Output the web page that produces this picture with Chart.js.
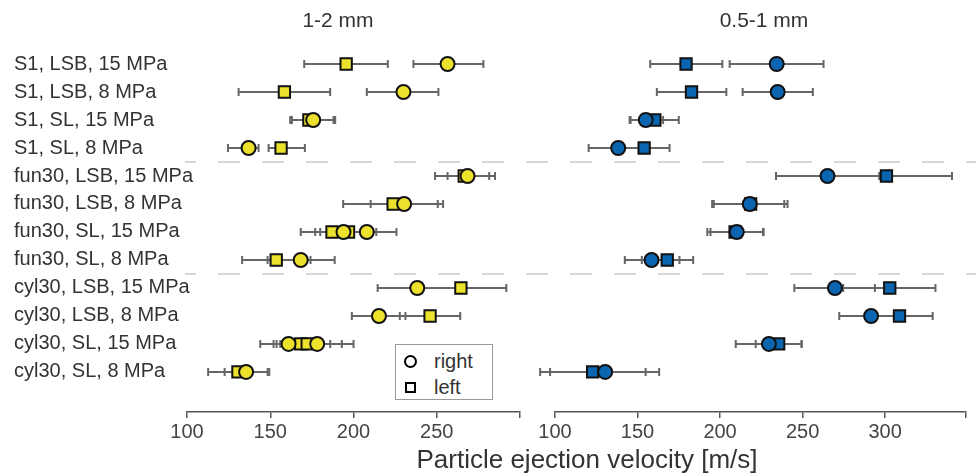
<!DOCTYPE html>
<html>
<head>
<meta charset="utf-8">
<script src="https://cdn.jsdelivr.net/npm/chart.js@4/dist/chart.umd.min.js"></script>
<style>
    body { margin: 0; background: #fff; font-family: "Liberation Sans", Arial, sans-serif; color: #333; }
    #wrap { position: relative; width: 976px; height: 473px; overflow: hidden; }
    #leftBox { position: absolute; left: 0; top: 0; width: 530px; height: 473px; }
    #rightBox { position: absolute; left: 530px; top: 0; width: 446px; height: 473px; }
    .panel-title { position: absolute; top: 8px; font-size: 21px; transform: translateX(-50%); white-space: nowrap; }
    #xTitle { position: absolute; left: 587px; top: 444px; font-size: 26px; transform: translateX(-50%); white-space: nowrap; }
    #legend { position: absolute; left: 395px; top: 344px; width: 96px; height: 54px; border: 1px solid #999; background: #fff; font-size: 20px; }
    #legend .row { position: absolute; left: 38px; line-height: 20px; }
    #legend .mk { position: absolute; border: 2.5px solid #000; background: #fff; box-sizing: border-box; }
</style>
</head>
<body>
<div id="wrap">
    <div id="leftBox"><canvas id="coarseChart"></canvas></div>
    <div id="rightBox"><canvas id="fineChart"></canvas></div>
    <div class="panel-title" style="left:338px">1-2 mm</div>
    <div class="panel-title" style="left:764px">0.5-1 mm</div>
    <div id="legend">
        <div class="mk" style="left:8px; top:10px; width:13px; height:13px; border-radius:50%"></div>
        <div class="row" style="top:6px">right</div>
        <div class="mk" style="left:9px; top:37px; width:11px; height:11px"></div>
        <div class="row" style="top:32px">left</div>
    </div>
    <div id="xTitle">Particle ejection velocity [m/s]</div>
</div>
<script>
const categories = [
    'S1, LSB, 15 MPa', 'S1, LSB, 8 MPa', 'S1, SL, 15 MPa', 'S1, SL, 8 MPa',
    'fun30, LSB, 15 MPa', 'fun30, LSB, 8 MPa', 'fun30, SL, 15 MPa', 'fun30, SL, 8 MPa',
    'cyl30, LSB, 15 MPa', 'cyl30, LSB, 8 MPa', 'cyl30, SL, 15 MPa', 'cyl30, SL, 8 MPa'
];
const groupBreaks = [3.5, 7.5];

// [row, mean, low, high]
const coarseRight = [
    [0, 256.5, 236, 278], [1, 230, 208, 251], [2, 175.8, 162, 189], [3, 137, 124.6, 143],
    [4, 268.5, 249, 285], [5, 230.4, 210.3, 250.6], [6, 194, 177, 211], [6, 208, 190, 225.8],
    [7, 168.3, 148.4, 188.7], [8, 238.3, 214.5, 262], [9, 215.3, 199, 231.2],
    [10, 161, 144, 178], [10, 178.2, 156, 200], [11, 135.5, 122.6, 148.4]
];
const coarseLeft = [
    [0, 195.6, 170.4, 220.6], [1, 158.5, 131, 186], [2, 173.2, 163, 188], [3, 156.5, 149, 170.8],
    [4, 266.5, 256.5, 281.5], [5, 223.8, 193.8, 253.8], [6, 187.1, 168.3, 206], [6, 197, 180, 213.7],
    [7, 153.6, 133.1, 174.2], [8, 264.5, 240, 291.8], [9, 246, 227.8, 264.1],
    [10, 168.3, 152, 186], [10, 172.2, 153.8, 193], [11, 130.6, 112.7, 149.4]
];
const fineRight = [
    [0, 234.3, 205.8, 262.7], [1, 234.9, 213.7, 256.2], [2, 155, 145.2, 165.5], [3, 138.3, 120.4, 156],
    [4, 265.1, 233.9, 296.4], [5, 218, 195.2, 240.9], [6, 210.1, 192.3, 226.4], [7, 158.5, 142.3, 175.4],
    [8, 269.6, 245, 293.8], [9, 291.5, 272.2, 310.8], [10, 229.6, 209.5, 249.4], [11, 130.4, 97, 163.1]
];
const fineLeft = [
    [0, 179.4, 157.7, 201.4], [1, 182.7, 161.7, 203.8], [2, 160.5, 145.8, 175], [3, 154, 138.6, 169.4],
    [4, 300.8, 265, 340.5], [5, 218.5, 196.2, 238.9], [6, 209.1, 194.2, 226], [7, 168, 152.6, 183.7],
    [8, 302.8, 274.6, 330.5], [9, 308.7, 289, 328.8], [10, 235.5, 221.6, 249.4], [11, 122.8, 91, 154.9]
];

const coarseTicks = [100, 150, 200, 250, 300];
const fineTicks = [100, 150, 200, 250, 300, 349];

const yellow = '#ece22c';
const blue = '#0b66b2';
const fontFamily = '"Liberation Sans", Arial, sans-serif';
const font = { family: fontFamily, size: 20 };

const errorBars = {
    id: 'errorBars',
    beforeDatasetsDraw(chart, args, opts) {
        const { ctx, chartArea } = chart;
        const xs = chart.scales.x, ys = chart.scales.y;

        // dashed group separators, phase kept continuous across the two canvases
        ctx.save();
        ctx.strokeStyle = '#c8c8c8';
        ctx.lineWidth = 1.5;
        ctx.setLineDash([22, 22]);
        const x0 = opts.sepFrom(chartArea), x1 = chart.width;
        ctx.lineDashOffset = (((opts.canvasLeft + x0 - 174) % 44) + 44) % 44;
        groupBreaks.forEach(b => {
            const y = ys.getPixelForValue(b);
            ctx.beginPath();
            ctx.moveTo(x0, y);
            ctx.lineTo(x1, y);
            ctx.stroke();
        });
        ctx.restore();

        ctx.save();
        ctx.strokeStyle = '#666';
        ctx.lineWidth = 2;
        opts.series.forEach(series => {
            series.forEach(([row, , lo, hi]) => {
                const y = ys.getPixelForValue(row);
                const a = xs.getPixelForValue(lo), b = xs.getPixelForValue(hi);
                ctx.beginPath();
                ctx.moveTo(a, y); ctx.lineTo(b, y);
                ctx.moveTo(a, y - 4); ctx.lineTo(a, y + 4);
                ctx.moveTo(b, y - 4); ctx.lineTo(b, y + 4);
                ctx.stroke();
            });
        });
        ctx.restore();
    },
    afterDraw(chart, args, opts) {
        if (!opts.labels) return;
        // category names, left aligned; they may run slightly into the plot area
        const { ctx } = chart;
        const ys = chart.scales.y;
        ctx.save();
        ctx.font = `20px ${fontFamily}`;
        ctx.fillStyle = '#333';
        ctx.textAlign = 'left';
        ctx.textBaseline = 'middle';
        categories.forEach((c, i) => ctx.fillText(c, 14, ys.getPixelForValue(i)));
        ctx.restore();
    }
};

function makeDatasets(right, left, color) {
    return [
        {
            label: 'right',
            data: right.map(p => ({ x: p[1], y: p[0] })),
            pointStyle: 'circle',
            pointRadius: 7,
            borderWidth: 2,
            borderColor: '#111',
            backgroundColor: color
        },
        {
            label: 'left',
            data: left.map(p => ({ x: p[1], y: p[0] })),
            pointStyle: 'rect',
            pointRadius: 8,
            borderWidth: 2,
            borderColor: '#111',
            backgroundColor: color
        }
    ];
}

function xScale(min, max, tickValues) {
    return {
        type: 'linear',
        min: min,
        max: max,
        afterBuildTicks: s => { s.ticks = tickValues.map(v => ({ value: v })); },
        afterFit: s => { s.height = 40; },
        ticks: {
            autoSkip: false,
            maxRotation: 0,
            padding: 2,
            font: font,
            color: '#444',
            callback: (v, i) => (i === tickValues.length - 1 ? '' : String(v))
        },
        grid: { display: true, drawOnChartArea: false, drawTicks: true, tickLength: 6, color: '#555', lineWidth: 1.5 },
        border: { display: true, color: '#555', width: 1.5 }
    };
}

function yScale(width) {
    return {
        type: 'linear',
        min: -1,
        max: 12.43,
        reverse: true,
        afterFit: s => { s.width = width; },
        ticks: { display: false },
        grid: { display: false },
        border: { display: false }
    };
}

Chart.defaults.animation = false;

new Chart(document.getElementById('coarseChart'), {
    type: 'scatter',
    data: { datasets: makeDatasets(coarseRight, coarseLeft, yellow) },
    options: {
        responsive: true,
        maintainAspectRatio: false,
        layout: { padding: { left: 14, right: 7, top: 36, bottom: 21 } },
        plugins: {
            legend: { display: false },
            tooltip: { enabled: false },
            errorBars: {
                series: [coarseRight, coarseLeft],
                canvasLeft: 0,
                labels: true,
                sepFrom: area => area.left - 2
            }
        },
        scales: { x: xScale(100, 300, coarseTicks), y: yScale(173) }
    },
    plugins: [errorBars]
});

new Chart(document.getElementById('fineChart'), {
    type: 'scatter',
    data: { datasets: makeDatasets(fineRight, fineLeft, blue) },
    options: {
        responsive: true,
        maintainAspectRatio: false,
        layout: { padding: { left: 25, right: 3, top: 36, bottom: 21 } },
        plugins: {
            legend: { display: false },
            tooltip: { enabled: false },
            errorBars: {
                series: [fineRight, fineLeft],
                canvasLeft: 530,
                labels: false,
                sepFrom: () => 0
            }
        },
        scales: { x: xScale(100, 349, fineTicks), y: yScale(0) }
    },
    plugins: [errorBars]
});
</script>
</body>
</html>
